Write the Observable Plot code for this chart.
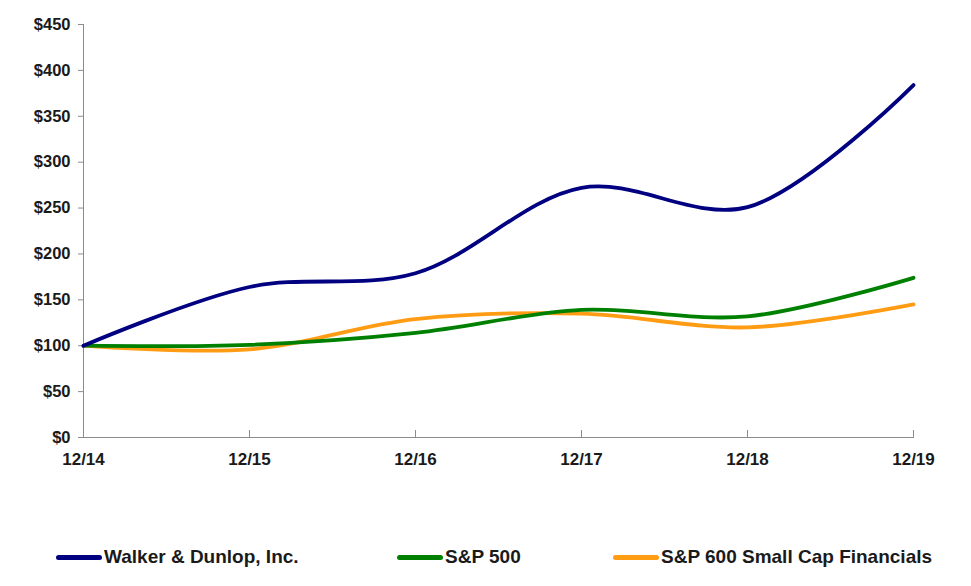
<!DOCTYPE html>
<html>
<head>
<meta charset="utf-8">
<script src="https://cdn.jsdelivr.net/npm/d3@7"></script>
<script src="https://cdn.jsdelivr.net/npm/@observablehq/plot@0.6"></script>
<style>
  html, body { margin: 0; padding: 0; background: #fff; }
  #wrap { position: relative; width: 971px; height: 586px; font-family: "Liberation Sans", Arial, sans-serif; }
  #legend { position: absolute; left: 0; top: 545px; width: 971px; height: 24px; }
  .item { position: absolute; top: 0; display: flex; align-items: center; height: 24px; font-weight: bold; font-size: 19px; color: #1a1a1a; white-space: nowrap; }
  .sw { display: inline-block; width: 46px; height: 5px; border-radius: 3px; margin-right: 2px; }
</style>
</head>
<body>
<div id="wrap"><div id="chart"></div><div id="legend"></div></div>
<script>
const periods = ["12/14", "12/15", "12/16", "12/17", "12/18", "12/19"];
const seriesNames = ["Walker & Dunlop, Inc.", "S&P 500", "S&P 600 Small Cap Financials"];
const walkerDunlop = [100, 164, 179, 272, 251, 384];
const sp500 = [100, 101, 114, 139, 132, 174];
const sp600Fin = [100, 96, 129, 135, 120, 145];
const yTicks = [0, 50, 100, 150, 200, 250, 300, 350, 400, 450];
const colors = ["#000080", "#008000", "#ff9c14"];

const allSeries = [walkerDunlop, sp500, sp600Fin];
const rows = [];
// draw order: orange, green, navy on top
[2, 1, 0].forEach(s => {
  periods.forEach((p, i) => rows.push({period: p, value: allSeries[s][i], series: seriesNames[s]}));
});

const chart = Plot.plot({
  width: 971,
  height: 480,
  marginLeft: 83,
  marginRight: 58,
  marginTop: 24,
  marginBottom: 43,
  style: {fontFamily: "'Liberation Sans', Arial, sans-serif", fontWeight: "bold", fontSize: "16.5px", color: "#1a1a1a", background: "#fff"},
  x: {type: "point", domain: periods, padding: 0},
  y: {domain: [0, 450]},
  color: {domain: seriesNames, range: colors},
  marks: [
    Plot.frame({anchor: "left", stroke: "#8c8c8c"}),
    Plot.frame({anchor: "bottom", stroke: "#8c8c8c"}),
    Plot.axisY({ticks: yTicks, tickFormat: d => "$" + d, tickSize: 5, tickPadding: 8, stroke: "#8c8c8c", label: null, fill: "#1a1a1a"}),
    Plot.axisX({tickSize: -7, tickPadding: 22, stroke: "#8c8c8c", label: null, fill: "#1a1a1a", fontSize: "17px"}),
    Plot.line(rows, {x: "period", y: "value", z: "series", stroke: "series", strokeWidth: 3.8, curve: "catmull-rom", strokeLinecap: "round"})
  ]
});
document.getElementById("chart").appendChild(chart);

const legendLefts = [56, 397, 613];
const legend = document.getElementById("legend");
seriesNames.forEach((name, i) => {
  const item = document.createElement("div");
  item.className = "item";
  item.style.left = legendLefts[i] + "px";
  const sw = document.createElement("span");
  sw.className = "sw";
  sw.style.background = colors[i];
  item.appendChild(sw);
  item.appendChild(document.createTextNode(name));
  legend.appendChild(item);
});
</script>
</body>
</html>
